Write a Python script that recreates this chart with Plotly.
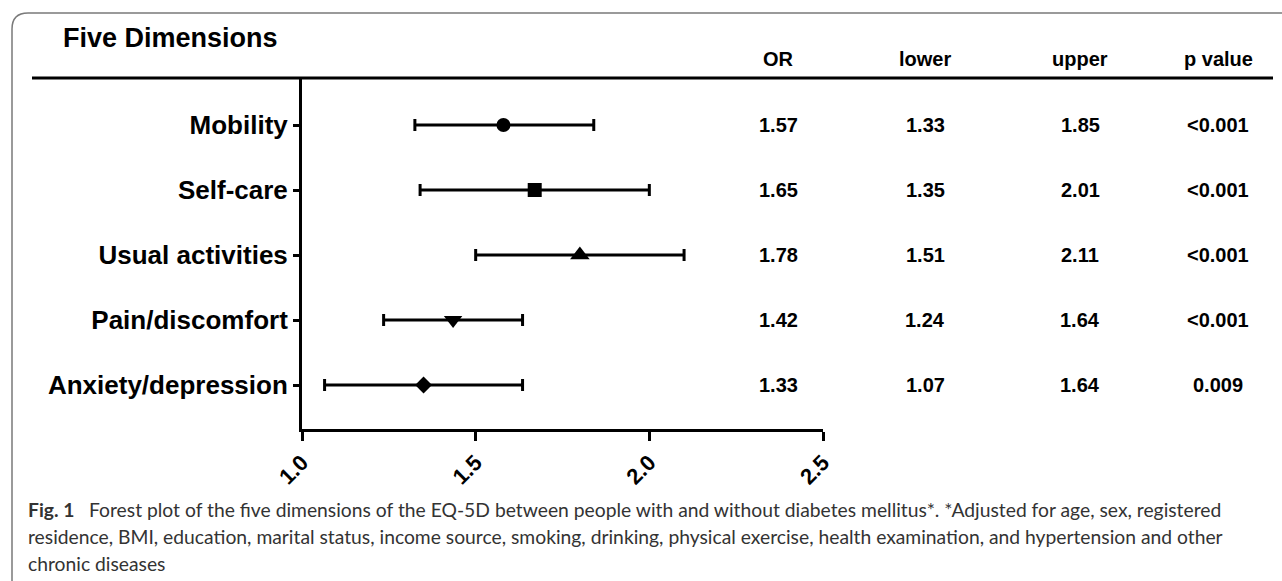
import plotly.graph_objects as go

# ---------------- data ----------------
dimensions = ["Mobility", "Self-care", "Usual activities", "Pain/discomfort", "Anxiety/depression"]
# values as plotted
or_plotted = [1.58, 1.67, 1.80, 1.435, 1.35]
lower_plotted = [1.325, 1.34, 1.50, 1.235, 1.065]
upper_plotted = [1.84, 2.00, 2.10, 1.635, 1.635]
# table text
table_headers = ["OR", "lower", "upper", "p value"]
or_text = ["1.57", "1.65", "1.78", "1.42", "1.33"]
lower_text = ["1.33", "1.35", "1.51", "1.24", "1.07"]
upper_text = ["1.85", "2.01", "2.11", "1.64", "1.64"]
p_text = ["<0.001", "<0.001", "<0.001", "<0.001", "0.009"]
marker_symbols = ["circle", "square", "triangle-up", "triangle-down", "diamond"]
x_ticks = [1.0, 1.5, 2.0, 2.5]
x_tick_labels = ["1.0", "1.5", "2.0", "2.5"]
title_text = "Five Dimensions"
caption_lines = [
    "<b>Fig. 1</b>\u2002 Forest plot of the five dimensions of the EQ-5D between people with and without diabetes mellitus*. *Adjusted for age, sex, registered",
    "residence, BMI, education, marital status, income source, smoking, drinking, physical exercise, health examination, and hypertension and other",
    "chronic diseases",
]

# ---------------- layout helpers ----------------
W, H = 1282, 581
def fx(px):
    return px / W
def fy(py):
    return 1 - py / H

ARIAL = "Liberation Sans, Arial, sans-serif"
TABLE_FONT = "Liberation Sans, Arial, sans-serif"
CAPTION_FONT = "Lato, Open Sans, sans-serif"

marker_sizes = [14, 14, 17, 16, 13]

err_plus = [u - o for u, o in zip(upper_plotted, or_plotted)]
err_minus = [o - l for o, l in zip(or_plotted, lower_plotted)]

fig = go.Figure()
fig.add_trace(go.Scatter(
    x=or_plotted, y=dimensions, mode="markers",
    marker=dict(symbol=marker_symbols, size=marker_sizes, color="black",
                opacity=1, line=dict(width=0)),
    error_x=dict(type="data", symmetric=False, array=err_plus, arrayminus=err_minus,
                 thickness=3, width=6, color="black"),
    showlegend=False, hoverinfo="skip",
))

# row positions: Mobility at y=125px, Anxiety at 385px, axis from 78 to 429
top_px, bot_px = 78, 429
row0, row4 = 125, 385
step = (row4 - row0) / 4
y_top_val = -(row0 - top_px) / step
y_bot_val = 4 + (bot_px - row4) / step

fig.update_layout(
    template="none",
    width=W, height=H, autosize=False, showlegend=False,
    margin=dict(l=0, r=0, t=0, b=0, pad=0, autoexpand=False),
    paper_bgcolor="white", plot_bgcolor="rgba(0,0,0,0)",
    xaxis=dict(
        domain=[fx(302), fx(823)], range=[1.0, 2.5], automargin=False,
        tickmode="array", tickvals=x_ticks, ticktext=x_tick_labels,
        tickangle=-45, ticks="outside", ticklen=9, tickwidth=3, tickcolor="black",
        showline=True, linewidth=3, linecolor="black",
        showgrid=False, zeroline=False,
        tickfont=dict(family=ARIAL, size=22, color="black", weight="bold"),
        anchor="y", fixedrange=True,
    ),
    yaxis=dict(
        domain=[fy(bot_px), fy(top_px)], type="category", automargin=False,
        categoryorder="array", categoryarray=dimensions,
        range=[y_bot_val, y_top_val],
        ticks="outside", ticklen=6, tickwidth=3, tickcolor="black",
        showline=True, linewidth=3, linecolor="black",
        showgrid=False, zeroline=False,
        tickfont=dict(family=ARIAL, size=26, color="black", weight="bold"),
        ticklabelstandoff=0,
        anchor="x", fixedrange=True,
    ),
)

shapes = []
# rounded outer border (top + left)
border_path = (f"M {fx(12)},{fy(581)} L {fx(12)},{fy(29)} "
               f"Q {fx(12)},{fy(13)} {fx(28)},{fy(13)} L {fx(1282)},{fy(13)}")
shapes.append(dict(type="path", xref="paper", yref="paper", path=border_path,
                   line=dict(color="#7a7a7a", width=1.5)))
# header rule
shapes.append(dict(type="line", xref="paper", yref="paper",
                   x0=fx(32), x1=fx(1273), y0=fy(78), y1=fy(78),
                   line=dict(color="black", width=3)))
fig.update_layout(shapes=shapes)

annotations = []
annotations.append(dict(text=f"<b>{title_text}</b>", xref="paper", yref="paper",
                        x=fx(61), y=fy(38), xanchor="left", yanchor="middle",
                        showarrow=False,
                        font=dict(family=ARIAL, size=27, color="black")))

col_x = [778, 925, 1080, 1218]
for hx, htxt in zip(col_x, table_headers):
    annotations.append(dict(text=f"<b>{htxt}</b>", xref="paper", yref="paper",
                            x=fx(hx), y=fy(59), xanchor="center", yanchor="middle",
                            showarrow=False,
                            font=dict(family=TABLE_FONT, size=20, color="black")))

for col, values in zip(col_x, [or_text, lower_text, upper_text, p_text]):
    for dim, val in zip(dimensions, values):
        annotations.append(dict(text=f"<b>{val.replace('<', '&lt;')}</b>", xref="paper", yref="y",
                                x=fx(col), y=dim, xanchor="center", yanchor="middle",
                                showarrow=False,
                                font=dict(family=TABLE_FONT, size=20, color="black")))

cap_y = [509, 536, 563]
for line, ly in zip(caption_lines, cap_y):
    annotations.append(dict(text=line, xref="paper", yref="paper",
                            x=fx(26), y=fy(ly), xanchor="left", yanchor="middle",
                            showarrow=False, align="left",
                            font=dict(family=CAPTION_FONT, size=19.3, color="#333333")))

fig.update_layout(annotations=annotations)

fig.write_html("out.html", config={"displayModeBar": False, "staticPlot": True},
               post_script="document.body.style.margin='0';document.body.style.overflow='hidden';")
